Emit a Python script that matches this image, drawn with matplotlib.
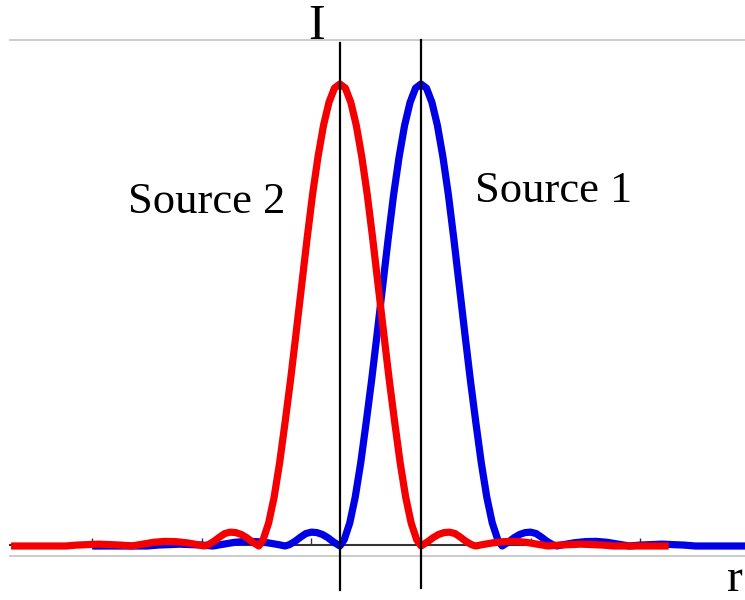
import matplotlib
matplotlib.use("Agg")
import matplotlib.pyplot as plt
import numpy as np

# ---- data ----
# radial offset from a source's centre (axis units, tick spacing = 1) and intensity
profile_offset = [0.00, 0.05, 0.10, 0.15, 0.20, 0.25, 0.30, 0.35, 0.40, 0.45,
                  0.50, 0.55, 0.60, 0.65, 0.70, 0.74, 0.80, 0.85, 0.90, 0.95,
                  1.00, 1.05, 1.10, 1.15, 1.20, 1.24, 1.30, 1.40, 1.50, 1.60,
                  1.70, 1.80, 1.90, 2.00, 2.10, 2.20, 2.30, 2.40, 2.50, 2.75, 3.00]
profile_intensity = [1.000, 0.991, 0.960, 0.910, 0.842, 0.760, 0.664, 0.562, 0.460, 0.360,
                     0.268, 0.180, 0.106, 0.050, 0.014, 0.000, 0.009, 0.018, 0.025, 0.029,
                     0.030, 0.027, 0.019, 0.010, 0.003, 0.000, 0.003, 0.007, 0.0095, 0.010,
                     0.008, 0.004, 0.000, 0.002, 0.003, 0.004, 0.003, 0.002, 0.000, 0.000, 0.000]

source1_center = 0.0
source2_center = -0.74
tick_positions = [-3, -2, -1, 0, 1, 2]
labels = {"source1": "Source 1", "source2": "Source 2", "y": "I", "x": "r"}

off = np.array(profile_offset)
inten = np.array(profile_intensity)
full_off = np.concatenate([-off[::-1], off[1:]])
full_int = np.concatenate([inten[::-1], inten[1:]])

s1_r = source1_center + full_off
s2_r = source2_center + full_off

# ---- figure ----
W, H = 745, 600
fig = plt.figure(figsize=(W / 100, H / 100), dpi=100)
ax = fig.add_axes([10 / W, 1 - 556 / H, 1 - 10 / W, (556 - 40) / H])

zero_px, peak_px = 546, 84
scale = (zero_px - peak_px)
ax.set_ylim((zero_px - 556) / scale, (zero_px - 40) / scale)
ax.set_xlim((10 - 421) / 109.6, (745 - 421) / 109.6)

ax.plot(s1_r, full_int, color="#0000e6", lw=5.2, zorder=3, solid_capstyle="butt")
ax.plot(s2_r, full_int, color="#f50000", lw=5.2, zorder=3.1, solid_capstyle="butt")

# centre lines (extend beyond axes)
for c, top, bot in [(source2_center, 43, 590), (source1_center, 40, 588)]:
    ax.plot([c, c], [(zero_px - top) / scale, (zero_px - bot) / scale],
            color="black", lw=1.6, zorder=4, clip_on=False)

# axes styling
for s in ["left", "right"]:
    ax.spines[s].set_visible(False)
ax.spines["top"].set_color("#c8c8c8")
ax.spines["top"].set_linewidth(1.3)
ax.spines["bottom"].set_position(("data", (zero_px - 545) / scale))
ax.spines["bottom"].set_color("#333333")
ax.spines["bottom"].set_linewidth(1.5)
ax.spines["bottom"].set_zorder(2)
ax.plot([0, 1], [0, 0], transform=ax.transAxes, color="#c8c8c8", lw=1.3, clip_on=False)
ax.set_xticks(tick_positions)
ax.set_xticklabels([])
ax.tick_params(axis="x", direction="in", length=5, width=1, color="#333333")
ax.set_yticks([])

serif = ["Liberation Serif", "DejaVu Serif"]
fig.text(128 / W, 1 - 213 / H, labels["source2"], fontsize=32, family=serif,
         ha="left", va="baseline")
fig.text(475 / W, 1 - 202 / H, labels["source1"], fontsize=32, family=serif,
         ha="left", va="baseline")
fig.text(317 / W, 1 - 39 / H, labels["y"], fontsize=36, family=serif,
         ha="center", va="baseline")
fig.text(735 / W, 1 - 591 / H, labels["x"], fontsize=34, family=serif,
         ha="center", va="baseline")

fig.savefig("out.png", dpi=100)
